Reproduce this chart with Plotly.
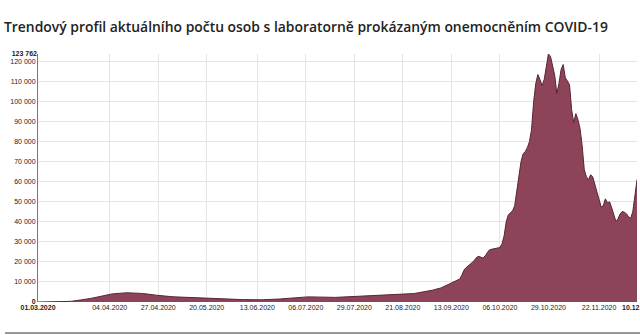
import pandas as pd
import plotly.graph_objects as go

start_date = "2020-03-01"

march = [0, 0, 3, 5, 8, 12, 19, 26, 31, 40, 63, 94, 116, 150, 214, 290, 380, 450, 680, 800,
         980, 1150, 1230, 1370, 1620, 1800, 2000, 2250, 2550, 2750, 3000]
april = [3200, 3400, 3600, 3800, 4000, 4100, 4250, 4350, 4450, 4500, 4550, 4600, 4600, 4580, 4550,
         4500, 4450, 4380, 4300, 4200, 4000, 3900, 3800, 3700, 3550, 3400, 3250, 3100, 3000, 2900]
may = [2800, 2750, 2700, 2600, 2550, 2500, 2400, 2350, 2300, 2200, 2150, 2100, 2050, 2000, 1950,
       1900, 1850, 1800, 1750, 1700, 1650, 1600, 1550, 1500, 1500, 1450, 1450, 1400, 1400, 1350, 1350]
june = [1300, 1300, 1250, 1250, 1200, 1200, 1200, 1150, 1150, 1150, 1100, 1100, 1100, 1100, 1100,
        1150, 1150, 1200, 1250, 1300, 1350, 1400, 1450, 1550, 1650, 1750, 1850, 1950, 2050, 2150]
july = [2250, 2350, 2400, 2450, 2500, 2550, 2550, 2550, 2500, 2450, 2400, 2350, 2300, 2250, 2200,
        2200, 2200, 2200, 2250, 2300, 2350, 2400, 2450, 2500, 2550, 2600, 2650, 2700, 2750, 2800, 2850]
august = [2900, 2950, 3000, 3000, 3050, 3100, 3100, 3150, 3200, 3200, 3250, 3300, 3300, 3350, 3400,
          3400, 3450, 3500, 3550, 3600, 3700, 3800, 3900, 4000, 4100, 4200, 4350, 4500, 4650, 4800, 5000]
september = [5200, 5400, 5600, 5900, 6200, 6400, 6700, 7000, 7500, 8000, 8600, 9200, 9800, 10300, 10600,
             10900, 11500, 13500, 16000, 17200, 18000, 18700, 19800, 21000, 22300, 22800, 22300, 21900,
             23000, 24800]
october = [26000, 26300, 26500, 26700, 26900, 27200, 29000, 33000, 40000, 43500, 44500, 45500, 48000,
           55000, 63000, 70000, 74000, 75000, 77000, 80000, 86000, 100000, 109000, 113500, 111000,
           108000, 111000, 118000, 123762, 122500, 118000]
november = [113000, 104000, 109000, 116000, 118500, 112000, 110000, 108500, 96000, 89500, 94000, 91000,
            86500, 78000, 66000, 62500, 61000, 63500, 62500, 59000, 55000, 51500, 47500, 48000, 51500,
            49500, 50000, 47000, 43500, 40200]
december = [41500, 44000, 45200, 44800, 44000, 42500, 41800, 45000, 53000, 61000]

values = march + april + may + june + july + august + september + october + november + december
dates = pd.date_range(start_date, periods=len(values), freq="D")

x_tick_dates = ["2020-03-01", "2020-04-04", "2020-04-27", "2020-05-20", "2020-06-13", "2020-07-06",
                "2020-07-29", "2020-08-21", "2020-09-13", "2020-10-06", "2020-10-29", "2020-11-22"]
x_tick_text = ["<b>01.03.2020</b>", "04.04.2020", "27.04.2020", "20.05.2020", "13.06.2020", "06.07.2020",
               "29.07.2020", "21.08.2020", "13.09.2020", "06.10.2020", "29.10.2020", "22.11.2020"]
last_label = "<b>10.12.2020</b>"

y_tick_vals = [0, 10000, 20000, 30000, 40000, 50000, 60000, 70000, 80000, 90000, 100000, 110000, 120000]
y_tick_text = ["<b>0</b>", "10 000", "20 000", "30 000", "40 000", "50 000", "60 000", "70 000",
               "80 000", "90 000", "100 000", "110 000", "120 000"]
y_max = max(values)
y_max_text = "<b>123 762</b>"

fig = go.Figure()
fig.add_trace(go.Scatter(
    x=dates, y=values, mode="lines", fill="tozeroy",
    line=dict(color="#5a2436", width=1),
    fillcolor="#8d4459", hoverinfo="skip", showlegend=False,
))
# invisible trace to host the max label axis
fig.add_trace(go.Scatter(x=[dates[0]], y=[0], yaxis="y2", mode="markers",
                         marker=dict(opacity=0), showlegend=False, hoverinfo="skip"))

tick_font = dict(family="Liberation Sans, Arial, sans-serif", size=7, color="#222")

fig.update_layout(
    width=640, height=335,
    margin=dict(l=38, r=3, t=54, b=33),
    paper_bgcolor="white", plot_bgcolor="white",
    title=dict(
        text="Trendový profil aktuálního počtu osob s laboratorně prokázaným onemocněním COVID-19",
        font=dict(family="Open Sans", size=13.9, color="#222", weight=600),
        x=4 / 640, xanchor="left", xref="container",
        y=1 - 27 / 335, yanchor="middle", yref="container",
    ),
    xaxis=dict(
        range=[dates[0], dates[-1]],
        tickvals=x_tick_dates, ticktext=x_tick_text, tickangle=0,
        showgrid=True, gridcolor="#e4e4e4", gridwidth=1,
        showline=False, zeroline=False, ticks="", tickfont=tick_font,
    ),
    yaxis=dict(
        range=[0, y_max],
        tickvals=y_tick_vals, ticktext=y_tick_text,
        showgrid=True, gridcolor="#e4e4e4", gridwidth=1,
        showline=True, linecolor="#777", linewidth=1,
        zeroline=False, ticks="", tickfont=tick_font,
    ),
    yaxis2=dict(
        range=[0, y_max], overlaying="y", side="left",
        tickvals=[y_max], ticktext=[y_max_text],
        showgrid=False, showline=False, zeroline=False, ticks="", tickfont=tick_font,
    ),
)

fig.add_annotation(x=dates[-1], y=0, xref="x", yref="y", text=last_label, showarrow=False,
                   xanchor="left", yanchor="top", xshift=-17, yshift=0,
                   font=tick_font)

fig.add_shape(type="line", xref="paper", yref="paper", x0=-33 / 599, x1=1.01,
              y0=-31 / 248, y1=-31 / 248, line=dict(color="#999", width=2))

fig.write_html("out.html")
